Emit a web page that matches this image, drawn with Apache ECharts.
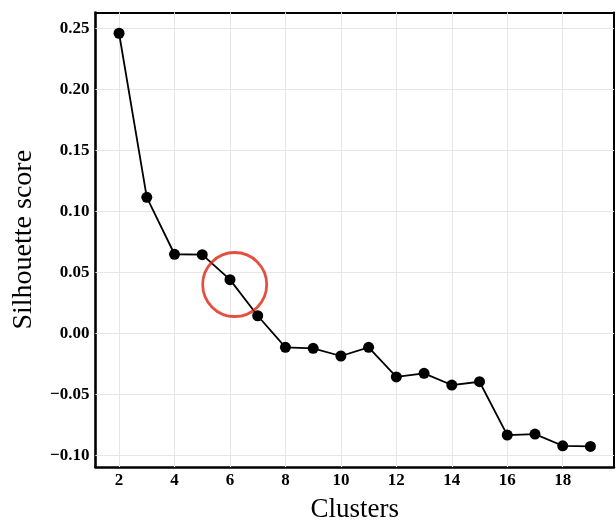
<!DOCTYPE html>
<html>
<head>
<meta charset="utf-8">
<script src="https://cdn.jsdelivr.net/npm/echarts@6/dist/echarts.min.js"></script>
<style>
  html, body { margin: 0; padding: 0; background: #fff; }
  #chart { width: 616px; height: 521px; }
</style>
</head>
<body>
<div id="chart"></div>
<script>
// Number of clusters and the silhouette score for each
const clusters = [2, 3, 4, 5, 6, 7, 8, 9, 10, 11, 12, 13, 14, 15, 16, 17, 18, 19];
const silhouette = [0.246, 0.1115, 0.0648, 0.0645, 0.044, 0.0144, -0.0115, -0.0123, -0.0186,
  -0.0115, -0.0358, -0.0328, -0.0424, -0.0397, -0.0834, -0.0826, -0.0922, -0.0927];

// Tick positions on each axis
const xTicks = [2, 4, 6, 8, 10, 12, 14, 16, 18];
const yTicks = [-0.10, -0.05, 0.00, 0.05, 0.10, 0.15, 0.20, 0.25];

// Highlight ring around the chosen cluster count
const highlight = [[6.17, 0.040]];

const FONT = 'Liberation Serif';
const xRange = [1.15, 19.85];
const yRange = [-0.1096, 0.263];

const fmtY = v => (v < 0 ? '\u2212' : '') + Math.abs(v).toFixed(2);

function axisBase(range, ticks, show, lineWidth) {
  return {
    type: 'value',
    min: range[0],
    max: range[1],
    axisLine: { show: true, onZero: false, lineStyle: { color: '#000', width: lineWidth } },
    axisTick: { show: true, inside: true, length: 4, customValues: ticks,
      lineStyle: { color: '#444', width: 1 } },
    splitLine: { show: false },
    axisLabel: show ? {
      customValues: ticks,
      fontFamily: FONT, fontWeight: 'bold', fontSize: 17, color: '#000'
    } : { show: false }
  };
}

const chart = echarts.init(document.getElementById('chart'), null, { renderer: 'canvas' });

const xBottom = axisBase(xRange, xTicks, true, 2.6);
xBottom.position = 'bottom';
xBottom.axisLabel.margin = 5;
xBottom.name = 'Clusters';
xBottom.nameLocation = 'middle';
xBottom.nameGap = 29;
xBottom.nameTextStyle = { fontFamily: FONT, fontSize: 27, color: '#000' };

const xTop = axisBase(xRange, xTicks, false, 2);
xTop.position = 'top';

const yLeft = axisBase(yRange, yTicks, true, 2.6);
yLeft.position = 'left';
yLeft.axisLabel.margin = 6;
yLeft.axisLabel.formatter = fmtY;
yLeft.name = 'Silhouette score';
yLeft.nameLocation = 'middle';
yLeft.nameGap = 58;
yLeft.nameTextStyle = { fontFamily: FONT, fontSize: 28, color: '#000' };

const yRight = axisBase(yRange, yTicks, false, 2);
yRight.position = 'right';

// Light grid lines at every tick
const gridLines = [
  ...xTicks.map(v => ({ xAxis: v })),
  ...yTicks.map(v => ({ yAxis: v }))
];

chart.setOption({
  animation: false,
  backgroundColor: '#fff',
  grid: { left: 95.5, top: 12.5, right: 2, bottom: 54, containLabel: false, outerBoundsMode: 'none' },
  xAxis: [xBottom, xTop],
  yAxis: [yLeft, yRight],
  series: [
    {
      type: 'line',
      data: clusters.map((c, i) => [c, silhouette[i]]),
      symbol: 'circle',
      symbolSize: 11,
      showSymbol: true,
      itemStyle: { color: '#000' },
      lineStyle: { color: '#000', width: 1.8 },
      z: 3,
      markLine: {
        silent: true,
        symbol: 'none',
        label: { show: false },
        lineStyle: { color: '#e6e6e6', width: 1, type: 'solid' },
        data: gridLines,
        z: 1
      }
    },
    {
      type: 'scatter',
      data: highlight,
      symbol: 'circle',
      symbolSize: 64,
      itemStyle: { color: 'rgba(0,0,0,0)', borderColor: '#dd2410', borderWidth: 2.8 },
      z: 4
    }
  ]
});
</script>
</body>
</html>
